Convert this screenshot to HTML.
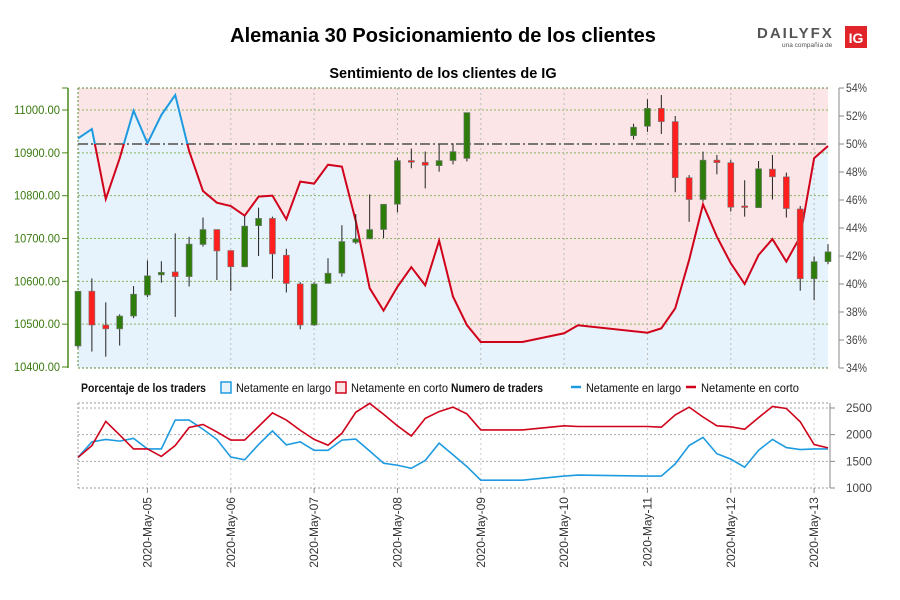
<!DOCTYPE html>
<html><head><meta charset="utf-8"><style>
body{margin:0;background:#fff;}
svg{display:block;font-family:"Liberation Sans",sans-serif;}
</style></head><body>
<svg id="c" width="900" height="600">
<text x="443" y="42" text-anchor="middle" font-size="20" font-weight="bold" fill="#000">Alemania 30 Posicionamiento de los clientes</text>
<text x="443" y="78" text-anchor="middle" font-size="14.5" font-weight="bold" fill="#000">Sentimiento de los clientes de IG</text>
<g>
<text x="757" y="38" font-size="15" font-weight="bold" fill="#555" letter-spacing="2">DAILYFX</text>
<text x="782" y="47" font-size="6.5" fill="#555">una compañía de</text>
<rect x="845" y="26" width="22" height="22" fill="#e0242a"/>
<text x="856" y="43" text-anchor="middle" font-size="14" font-weight="bold" fill="#fff">IG</text>
</g>
<g id="main"></g>
<g id="legend" font-size="12">
<text x="81" y="392" font-weight="bold" fill="#111" textLength="125" lengthAdjust="spacingAndGlyphs">Porcentaje de los traders</text>
<rect x="221" y="382" width="10" height="11" fill="#e6f3fb" stroke="#1e9be0" stroke-width="1.5"/>
<text x="236" y="392" fill="#111" textLength="95" lengthAdjust="spacingAndGlyphs">Netamente en largo</text>
<rect x="336" y="382" width="10" height="11" fill="#fbe4e5" stroke="#d0021b" stroke-width="1.5"/>
<text x="351" y="392" fill="#111" textLength="97" lengthAdjust="spacingAndGlyphs">Netamente en corto</text>
<text x="451" y="392" font-weight="bold" fill="#111" textLength="92" lengthAdjust="spacingAndGlyphs">Numero de traders</text>
<line x1="571" y1="387" x2="581" y2="387" stroke="#1e9be0" stroke-width="2.5"/>
<text x="586" y="392" fill="#111" textLength="95" lengthAdjust="spacingAndGlyphs">Netamente en largo</text>
<line x1="686" y1="387" x2="696" y2="387" stroke="#d0021b" stroke-width="2.5"/>
<text x="701" y="392" fill="#111" textLength="98" lengthAdjust="spacingAndGlyphs">Netamente en corto</text>
</g>
<g id="sub"></g>
</svg>
<script>
const opens=[10449,10577,10498,10489,10519,10568,10615,10622,10611,10686,10721,10672,10634,10730,10747,10661,10594,10498,10595,10619,10691,10699,10721,10780,10882,10878,10870,10882,10887,
null,null,null,null,null,null,null,null,null,null,null,
10940,10962,11004,10973,10842,10791,10883,10877,10776,10772,10862,10844,10769,10606,10646];
const closes=[10577,10498,10489,10519,10570,10613,10621,10611,10687,10721,10671,10634,10729,10747,10664,10595,10498,10594,10619,10693,10699,10721,10780,10882,10878,10871,10882,10903,10994,
null,null,null,null,null,null,null,null,null,null,null,
10960,11004,10973,10842,10791,10883,10877,10773,10773,10863,10844,10770,10606,10646,10669];
const highs=[10577,10607,10551,10523,10589,10649,10647,10712,10704,10749,10721,10672,10752,10772,10751,10676,10598,10598,10654,10731,10757,10803,10780,10889,10910,10903,10920,10922,10994,
null,null,null,null,null,null,null,null,null,null,null,
10968,11025,11035,10986,10848,10903,10895,10883,10836,10881,10895,10854,10776,10658,10687];
const lows=[10444,10436,10424,10450,10514,10563,10597,10517,10588,10681,10603,10578,10633,10659,10606,10574,10488,10496,10595,10611,10687,10699,10701,10761,10864,10817,10856,10873,10880,
null,null,null,null,null,null,null,null,null,null,null,
10931,10949,10944,10808,10739,10786,10850,10763,10751,10772,10791,10749,10578,10556,10640];
const sentIdx=[0,1,2,3,4,5,6,7,8,9,10,11,12,13,14,15,16,17,18,19,20,21,22,23,24,25,26,27,28,29,32,35,36,41,42,43,44,45,46,47,48,49,50,51,52,53,54];
const longPct=[50.4,51.07,46.07,48.98,52.38,50.05,52.07,53.5,49.5,46.64,45.81,45.57,44.88,46.24,46.31,44.62,47.31,47.17,48.52,48.38,44.5,39.7,38.1,39.8,41.2,39.9,43.1,39.1,37.07,35.86,35.86,36.48,37.05,36.52,36.83,38.26,41.71,45.69,43.38,41.48,40.0,42.07,43.21,41.6,43.38,48.98,49.86];
const longTraders=[1573,1866,1911,1879,1930,1733,1733,2274,2274,2102,1911,1580,1529,1815,2070,1809,1866,1707,1707,1898,1917,1694,1465,1427,1369,1516,1841,1624,1401,1147,1147,1223,1242,1223,1223,1452,1796,1949,1643,1541,1389,1707,1911,1758,1720,1733,1733];
const shortTraders=[1573,1796,2249,1994,1733,1733,1592,1796,2134,2191,2051,1898,1898,2153,2408,2274,2083,1911,1803,2026,2420,2586,2382,2166,1975,2306,2433,2516,2389,2089,2089,2166,2153,2153,2140,2370,2516,2331,2166,2147,2102,2319,2529,2491,2242,1815,1752];
const priceTicks=[10400,10500,10600,10700,10800,10900,11000];
const pctTicks=[34,36,38,40,42,44,46,48,50,52,54];
const traderTicks=[1000,1500,2000,2500];
const dateLabels=["2020-May-05","2020-May-06","2020-May-07","2020-May-08","2020-May-09","2020-May-10","2020-May-11","2020-May-12","2020-May-13"];
const dateIdx=[5,11,17,23,29,35,41,47,53];

const NS="http://www.w3.org/2000/svg";
const X0=78,X1=828,DX=(X1-X0)/54;
const xs=i=>X0+i*DX;
const yP=p=>367-(p-10400)*0.4283;
const yPct=v=>88+(54-v)*14;
const yT=v=>488-(v-1000)*(80/1500);
function mk(par,tag,at){const e=document.createElementNS(NS,tag);for(const k in at)e.setAttribute(k,at[k]);par.appendChild(e);return e;}
const M=document.getElementById('main'),S=document.getElementById('sub');

const bgTop=mk(M,'rect',{x:X0,y:88,width:X1-X0,height:280,fill:'#fbe5e6'});


let pts=sentIdx.map((k,j)=>xs(k)+','+yPct(longPct[j]));
const area=mk(M,'polygon',{points:pts.join(' ')+' '+xs(54)+',368 '+X0+',368',fill:'#e6f3fc'});


priceTicks.forEach(p=>{if(p>10400)mk(M,'line',{x1:X0,x2:X1,y1:yP(p),y2:yP(p),stroke:'#8ab560','stroke-dasharray':'2,2','stroke-width':1});});
mk(M,'line',{x1:X0,x2:X1,y1:88,y2:88,stroke:'#5a8a30','stroke-dasharray':'2,2'});
mk(M,'line',{x1:X0,x2:X1,y1:368,y2:368,stroke:'#5a8a30','stroke-dasharray':'2,2'});
mk(M,'line',{x1:X0,x2:X0,y1:88,y2:368,stroke:'#5a8a30','stroke-dasharray':'2,2'});
dateIdx.forEach(k=>{mk(M,'line',{x1:xs(k),x2:xs(k),y1:88,y2:368,stroke:'#bbb','stroke-dasharray':'2,3'});});
const fifty=mk(M,'line',{x1:X0,x2:X1,y1:yPct(50),y2:yPct(50),stroke:'#777','stroke-width':2,'stroke-dasharray':'10,3,2,3'});


const defs=mk(M,'defs',{});
const ca=mk(defs,'clipPath',{id:'ca'});mk(ca,'rect',{x:0,y:0,width:900,height:yPct(50)});
const cb=mk(defs,'clipPath',{id:'cb'});mk(cb,'rect',{x:0,y:yPct(50),width:900,height:400});
const l1=mk(M,'polyline',{points:pts.join(' '),fill:'none',stroke:'#1e9be0','stroke-width':2,'clip-path':'url(#ca)'});


const l2=mk(M,'polyline',{points:pts.join(' '),fill:'none',stroke:'#d0021b','stroke-width':2,'clip-path':'url(#cb)'});


opens.forEach((o,i)=>{if(o==null)return;const c=closes[i],x=xs(i);
 const g=mk(M,'g',{});
 
 
 mk(g,'line',{x1:x,x2:x,y1:yP(highs[i]),y2:yP(lows[i]),stroke:'#222','stroke-width':1});
 const t=Math.min(yP(o),yP(c)),h=Math.max(1.5,Math.abs(yP(o)-yP(c)));
 mk(g,'rect',{x:x-3,y:t,width:6,height:h,fill:c>=o?'#2e7d0a':'#ff1f1f',stroke:'#777','stroke-width':0.6});
});
mk(M,'line',{x1:68,x2:68,y1:88,y2:368,stroke:'#4a8a1a','stroke-width':1.5});
priceTicks.forEach(p=>{mk(M,'line',{x1:62,x2:68,y1:yP(p),y2:yP(p),stroke:'#4a8a1a'});
 const t=mk(M,'text',{x:60,y:yP(p)+4,'text-anchor':'end','font-size':12,fill:'#3a7a10',textLength:46,lengthAdjust:'spacingAndGlyphs'});t.textContent=p.toFixed(2);
 
 });
mk(M,'line',{x1:62,x2:68,y1:88,y2:88,stroke:'#4a8a1a'});
mk(M,'line',{x1:839,x2:839,y1:88,y2:368,stroke:'#888'});
pctTicks.forEach(v=>{mk(M,'line',{x1:839,x2:844,y1:yPct(v),y2:yPct(v),stroke:'#888'});
 const t=mk(M,'text',{x:846,y:yPct(v)+4,'font-size':12,fill:'#444',textLength:21,lengthAdjust:'spacingAndGlyphs'});t.textContent=v+'%';
 
 });
traderTicks.forEach(v=>{if(v>1000)mk(S,'line',{x1:X0,x2:X1,y1:yT(v),y2:yT(v),stroke:'#aaa','stroke-dasharray':'2,2'});});
mk(S,'line',{x1:X0,x2:X1,y1:403,y2:403,stroke:'#999','stroke-dasharray':'2,2'});
mk(S,'line',{x1:X0,x2:X1,y1:488,y2:488,stroke:'#999','stroke-dasharray':'2,2'});
mk(S,'line',{x1:X0,x2:X0,y1:403,y2:488,stroke:'#999','stroke-dasharray':'2,2'});
dateIdx.forEach((k,j)=>{mk(S,'line',{x1:xs(k),x2:xs(k),y1:403,y2:488,stroke:'#ccc','stroke-dasharray':'2,3'});
 mk(S,'line',{x1:xs(k),x2:xs(k),y1:488,y2:493,stroke:'#888'});
 const t=mk(S,'text',{x:0,y:0,'text-anchor':'end','font-size':12,fill:'#333',transform:`translate(${xs(k)+4},497) rotate(-90)`});t.textContent=dateLabels[j];
 
 });
mk(S,'line',{x1:830,x2:830,y1:403,y2:488,stroke:'#888'});
traderTicks.forEach(v=>{mk(S,'line',{x1:830,x2:835,y1:yT(v),y2:yT(v),stroke:'#888'});
 const t=mk(S,'text',{x:846,y:yT(v)+4,'font-size':12,fill:'#444',textLength:26,lengthAdjust:'spacingAndGlyphs'});t.textContent=v;
 
 });
const lt=mk(S,'polyline',{points:sentIdx.map((k,j)=>xs(k)+','+yT(longTraders[j])).join(' '),fill:'none',stroke:'#1e9be0','stroke-width':1.6});


const st=mk(S,'polyline',{points:sentIdx.map((k,j)=>xs(k)+','+yT(shortTraders[j])).join(' '),fill:'none',stroke:'#d0021b','stroke-width':1.6});


</script>
</body></html>
